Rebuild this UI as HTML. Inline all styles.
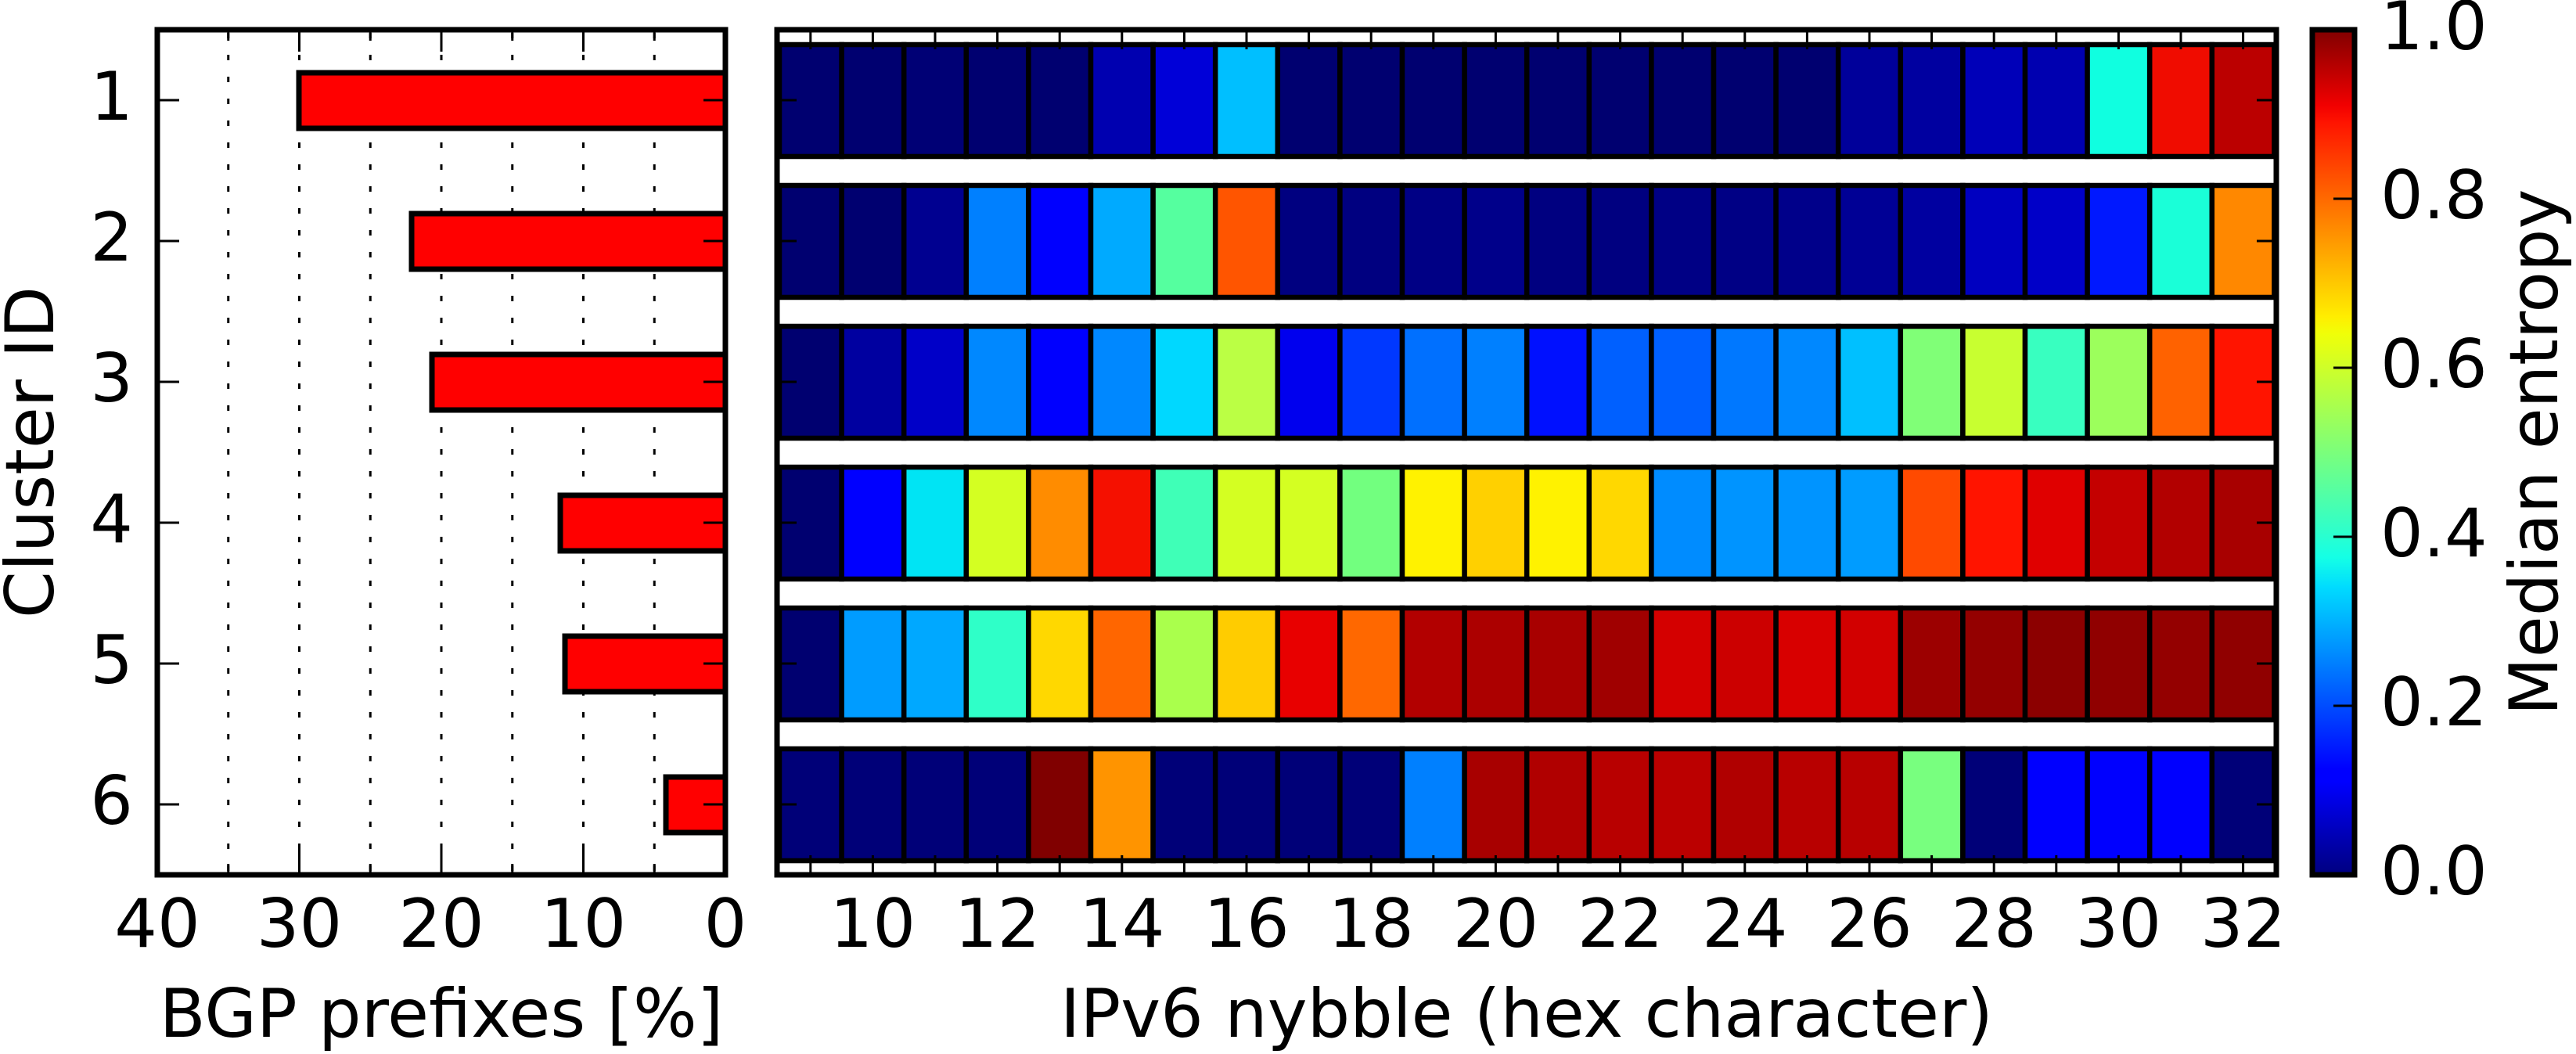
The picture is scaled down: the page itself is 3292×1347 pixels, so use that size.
<!DOCTYPE html>
<html><head><meta charset="utf-8"><style>
html,body{margin:0;padding:0;background:#fff}
svg{display:block}
text{font-family:"DejaVu Sans","Liberation Sans",sans-serif;font-size:86px;fill:#000}
</style></head><body>
<svg width="3292" height="1347" viewBox="0 0 3292 1347" xmlns="http://www.w3.org/2000/svg">
<defs>
<linearGradient id="jet" x1="0" y1="1" x2="0" y2="0">
<stop offset="0" stop-color="#000080"/><stop offset="0.11" stop-color="#0000ff"/><stop offset="0.125" stop-color="#0000ff"/>
<stop offset="0.34" stop-color="#00dbff"/><stop offset="0.375" stop-color="#14ffe6"/><stop offset="0.5" stop-color="#7bff7b"/>
<stop offset="0.64" stop-color="#f0ff08"/><stop offset="0.66" stop-color="#ffee00"/><stop offset="0.89" stop-color="#ff1400"/>
<stop offset="0.91" stop-color="#f20000"/><stop offset="1" stop-color="#800000"/>
</linearGradient>
</defs>

<!-- LEFT PANEL -->
<g stroke="#000" stroke-width="3" stroke-dasharray="7,21">
<line x1="291.75" y1="42" x2="291.75" y2="1114"/><line x1="382.5" y1="42" x2="382.5" y2="1114"/>
<line x1="473.25" y1="42" x2="473.25" y2="1114"/><line x1="564" y1="42" x2="564" y2="1114"/>
<line x1="654.75" y1="42" x2="654.75" y2="1114"/><line x1="745.5" y1="42" x2="745.5" y2="1114"/>
<line x1="836.25" y1="42" x2="836.25" y2="1114"/>
</g>
<g fill="#ff0000" stroke="#000" stroke-width="7">
<rect x="382" y="93" width="545" height="71"/>
<rect x="526" y="273" width="401" height="71"/>
<rect x="552" y="453" width="375" height="71"/>
<rect x="716" y="633" width="211" height="71"/>
<rect x="722" y="813" width="205" height="71"/>
<rect x="851" y="993" width="76" height="71"/>
</g>
<g stroke="#000" stroke-width="3">
<line x1="201" y1="128" x2="229" y2="128"/><line x1="201" y1="308" x2="229" y2="308"/><line x1="201" y1="488" x2="229" y2="488"/>
<line x1="201" y1="668" x2="229" y2="668"/><line x1="201" y1="848" x2="229" y2="848"/><line x1="201" y1="1028" x2="229" y2="1028"/>
<line x1="927" y1="128" x2="899" y2="128"/><line x1="927" y1="308" x2="899" y2="308"/><line x1="927" y1="488" x2="899" y2="488"/>
<line x1="927" y1="668" x2="899" y2="668"/><line x1="927" y1="848" x2="899" y2="848"/><line x1="927" y1="1028" x2="899" y2="1028"/>
<line x1="382.5" y1="1118" x2="382.5" y2="1084"/><line x1="564" y1="1118" x2="564" y2="1084"/><line x1="745.5" y1="1118" x2="745.5" y2="1084"/>
<line x1="291.75" y1="1118" x2="291.75" y2="1104"/><line x1="473.25" y1="1118" x2="473.25" y2="1104"/><line x1="654.75" y1="1118" x2="654.75" y2="1104"/><line x1="836.25" y1="1118" x2="836.25" y2="1104"/>
<line x1="382.5" y1="38" x2="382.5" y2="66"/><line x1="564" y1="38" x2="564" y2="66"/><line x1="745.5" y1="38" x2="745.5" y2="66"/>
<line x1="291.75" y1="38" x2="291.75" y2="52"/><line x1="473.25" y1="38" x2="473.25" y2="52"/><line x1="654.75" y1="38" x2="654.75" y2="52"/><line x1="836.25" y1="38" x2="836.25" y2="52"/>
</g>
<rect x="201" y="38" width="726" height="1080" fill="none" stroke="#000" stroke-width="7"/>
<g text-anchor="end">
<text x="170" y="153">1</text><text x="170" y="333">2</text><text x="170" y="513">3</text>
<text x="170" y="693">4</text><text x="170" y="873">5</text><text x="170" y="1053">6</text>
</g>
<g text-anchor="middle">
<text x="201" y="1210">40</text><text x="382.5" y="1210">30</text><text x="564" y="1210">20</text>
<text x="745.5" y="1210">10</text><text x="927" y="1210">0</text>
<text x="564" y="1325">BGP prefixes [%]</text>
<text transform="translate(68,578) rotate(-90)">Cluster ID</text>
</g>

<!-- HEATMAP -->
<g stroke="#000" stroke-width="6.5">
<g transform="translate(996,57)">
<rect x="0" width="79.6" height="143" fill="#000070"/><rect x="79.6" width="79.6" height="143" fill="#000070"/><rect x="159.2" width="79.6" height="143" fill="#000075"/><rect x="238.8" width="79.6" height="143" fill="#000070"/><rect x="318.4" width="79.6" height="143" fill="#000070"/><rect x="398" width="79.6" height="143" fill="#0000b0"/><rect x="477.6" width="79.6" height="143" fill="#0000d8"/><rect x="557.2" width="79.6" height="143" fill="#00bfff"/><rect x="636.8" width="79.6" height="143" fill="#000070"/><rect x="716.4" width="79.6" height="143" fill="#000070"/><rect x="796" width="79.6" height="143" fill="#000070"/><rect x="875.6" width="79.6" height="143" fill="#000070"/><rect x="955.2" width="79.6" height="143" fill="#000070"/><rect x="1034.8" width="79.6" height="143" fill="#000070"/><rect x="1114.4" width="79.6" height="143" fill="#000070"/><rect x="1194" width="79.6" height="143" fill="#000070"/><rect x="1273.6" width="79.6" height="143" fill="#000070"/><rect x="1353.2" width="79.6" height="143" fill="#00009a"/><rect x="1432.8" width="79.6" height="143" fill="#0000a0"/><rect x="1512.4" width="79.6" height="143" fill="#0000b8"/><rect x="1592" width="79.6" height="143" fill="#0000b0"/><rect x="1671.6" width="79.6" height="143" fill="#10ffe0"/><rect x="1751.2" width="79.6" height="143" fill="#f00c00"/><rect x="1830.8" width="79.6" height="143" fill="#bb0000"/>
</g>
<g transform="translate(996,237)">
<rect x="0" width="79.6" height="143" fill="#000070"/><rect x="79.6" width="79.6" height="143" fill="#000070"/><rect x="159.2" width="79.6" height="143" fill="#000090"/><rect x="238.8" width="79.6" height="143" fill="#0080ff"/><rect x="318.4" width="79.6" height="143" fill="#0000ff"/><rect x="398" width="79.6" height="143" fill="#00aaff"/><rect x="477.6" width="79.6" height="143" fill="#55ff9f"/><rect x="557.2" width="79.6" height="143" fill="#ff5500"/><rect x="636.8" width="79.6" height="143" fill="#000080"/><rect x="716.4" width="79.6" height="143" fill="#000080"/><rect x="796" width="79.6" height="143" fill="#000085"/><rect x="875.6" width="79.6" height="143" fill="#00008a"/><rect x="955.2" width="79.6" height="143" fill="#000080"/><rect x="1034.8" width="79.6" height="143" fill="#000080"/><rect x="1114.4" width="79.6" height="143" fill="#000085"/><rect x="1194" width="79.6" height="143" fill="#000085"/><rect x="1273.6" width="79.6" height="143" fill="#00008a"/><rect x="1353.2" width="79.6" height="143" fill="#000095"/><rect x="1432.8" width="79.6" height="143" fill="#0000a0"/><rect x="1512.4" width="79.6" height="143" fill="#0000c0"/><rect x="1592" width="79.6" height="143" fill="#0000c8"/><rect x="1671.6" width="79.6" height="143" fill="#0018ff"/><rect x="1751.2" width="79.6" height="143" fill="#1affd8"/><rect x="1830.8" width="79.6" height="143" fill="#ff8800"/>
</g>
<g transform="translate(996,417)">
<rect x="0" width="79.6" height="143" fill="#000070"/><rect x="79.6" width="79.6" height="143" fill="#0000a0"/><rect x="159.2" width="79.6" height="143" fill="#0000c8"/><rect x="238.8" width="79.6" height="143" fill="#0088ff"/><rect x="318.4" width="79.6" height="143" fill="#0000ff"/><rect x="398" width="79.6" height="143" fill="#0088ff"/><rect x="477.6" width="79.6" height="143" fill="#00d8ff"/><rect x="557.2" width="79.6" height="143" fill="#bbff44"/><rect x="636.8" width="79.6" height="143" fill="#0000ee"/><rect x="716.4" width="79.6" height="143" fill="#0038ff"/><rect x="796" width="79.6" height="143" fill="#0070ff"/><rect x="875.6" width="79.6" height="143" fill="#0080ff"/><rect x="955.2" width="79.6" height="143" fill="#0010ff"/><rect x="1034.8" width="79.6" height="143" fill="#0060ff"/><rect x="1114.4" width="79.6" height="143" fill="#0060ff"/><rect x="1194" width="79.6" height="143" fill="#0078ff"/><rect x="1273.6" width="79.6" height="143" fill="#0088ff"/><rect x="1353.2" width="79.6" height="143" fill="#00c0ff"/><rect x="1432.8" width="79.6" height="143" fill="#80ff77"/><rect x="1512.4" width="79.6" height="143" fill="#c8ff30"/><rect x="1592" width="79.6" height="143" fill="#38ffc0"/><rect x="1671.6" width="79.6" height="143" fill="#9cff5c"/><rect x="1751.2" width="79.6" height="143" fill="#ff6200"/><rect x="1830.8" width="79.6" height="143" fill="#ff1400"/>
</g>
<g transform="translate(996,597)">
<rect x="0" width="79.6" height="143" fill="#000070"/><rect x="79.6" width="79.6" height="143" fill="#0000ff"/><rect x="159.2" width="79.6" height="143" fill="#00e4f4"/><rect x="238.8" width="79.6" height="143" fill="#d4ff22"/><rect x="318.4" width="79.6" height="143" fill="#ff8c00"/><rect x="398" width="79.6" height="143" fill="#f51000"/><rect x="477.6" width="79.6" height="143" fill="#3fffb7"/><rect x="557.2" width="79.6" height="143" fill="#d4ff22"/><rect x="636.8" width="79.6" height="143" fill="#d4ff22"/><rect x="716.4" width="79.6" height="143" fill="#72ff7f"/><rect x="796" width="79.6" height="143" fill="#fff200"/><rect x="875.6" width="79.6" height="143" fill="#ffd000"/><rect x="955.2" width="79.6" height="143" fill="#fff200"/><rect x="1034.8" width="79.6" height="143" fill="#ffd800"/><rect x="1114.4" width="79.6" height="143" fill="#008cff"/><rect x="1194" width="79.6" height="143" fill="#0094ff"/><rect x="1273.6" width="79.6" height="143" fill="#0094ff"/><rect x="1353.2" width="79.6" height="143" fill="#009cff"/><rect x="1432.8" width="79.6" height="143" fill="#ff4a00"/><rect x="1512.4" width="79.6" height="143" fill="#ff1400"/><rect x="1592" width="79.6" height="143" fill="#e00000"/><rect x="1671.6" width="79.6" height="143" fill="#c40000"/><rect x="1751.2" width="79.6" height="143" fill="#b20000"/><rect x="1830.8" width="79.6" height="143" fill="#a80000"/>
</g>
<g transform="translate(996,777)">
<rect x="0" width="79.6" height="143" fill="#000070"/><rect x="79.6" width="79.6" height="143" fill="#009cff"/><rect x="159.2" width="79.6" height="143" fill="#00a8ff"/><rect x="238.8" width="79.6" height="143" fill="#2fffc8"/><rect x="318.4" width="79.6" height="143" fill="#ffd800"/><rect x="398" width="79.6" height="143" fill="#ff6600"/><rect x="477.6" width="79.6" height="143" fill="#aaff4c"/><rect x="557.2" width="79.6" height="143" fill="#ffcc00"/><rect x="636.8" width="79.6" height="143" fill="#e80000"/><rect x="716.4" width="79.6" height="143" fill="#ff6800"/><rect x="796" width="79.6" height="143" fill="#b20000"/><rect x="875.6" width="79.6" height="143" fill="#ac0000"/><rect x="955.2" width="79.6" height="143" fill="#a80000"/><rect x="1034.8" width="79.6" height="143" fill="#a00000"/><rect x="1114.4" width="79.6" height="143" fill="#d40000"/><rect x="1194" width="79.6" height="143" fill="#cc0000"/><rect x="1273.6" width="79.6" height="143" fill="#d80000"/><rect x="1353.2" width="79.6" height="143" fill="#d20000"/><rect x="1432.8" width="79.6" height="143" fill="#9c0000"/><rect x="1512.4" width="79.6" height="143" fill="#940000"/><rect x="1592" width="79.6" height="143" fill="#8c0000"/><rect x="1671.6" width="79.6" height="143" fill="#900000"/><rect x="1751.2" width="79.6" height="143" fill="#940000"/><rect x="1830.8" width="79.6" height="143" fill="#900000"/>
</g>
<g transform="translate(996,957)">
<rect x="0" width="79.6" height="143" fill="#000078"/><rect x="79.6" width="79.6" height="143" fill="#000078"/><rect x="159.2" width="79.6" height="143" fill="#000078"/><rect x="238.8" width="79.6" height="143" fill="#000078"/><rect x="318.4" width="79.6" height="143" fill="#800000"/><rect x="398" width="79.6" height="143" fill="#ff9400"/><rect x="477.6" width="79.6" height="143" fill="#000078"/><rect x="557.2" width="79.6" height="143" fill="#000078"/><rect x="636.8" width="79.6" height="143" fill="#000078"/><rect x="716.4" width="79.6" height="143" fill="#000078"/><rect x="796" width="79.6" height="143" fill="#0080ff"/><rect x="875.6" width="79.6" height="143" fill="#a80000"/><rect x="955.2" width="79.6" height="143" fill="#b00000"/><rect x="1034.8" width="79.6" height="143" fill="#b80000"/><rect x="1114.4" width="79.6" height="143" fill="#bb0000"/><rect x="1194" width="79.6" height="143" fill="#b00000"/><rect x="1273.6" width="79.6" height="143" fill="#b80000"/><rect x="1353.2" width="79.6" height="143" fill="#b80000"/><rect x="1432.8" width="79.6" height="143" fill="#78ff7f"/><rect x="1512.4" width="79.6" height="143" fill="#000078"/><rect x="1592" width="79.6" height="143" fill="#0000ff"/><rect x="1671.6" width="79.6" height="143" fill="#0000ff"/><rect x="1751.2" width="79.6" height="143" fill="#0000ff"/><rect x="1830.8" width="79.6" height="143" fill="#000078"/>
</g>
</g>
<g stroke="#000" stroke-width="3">
<path d="M1035.8 38v25M1115.4 38v25M1195 38v25M1274.6 38v25M1354.2 38v25M1433.8 38v25M1513.4 38v25M1593 38v25M1672.6 38v25M1752.2 38v25M1831.8 38v25M1911.4 38v25M1991 38v25M2070.6 38v25M2150.2 38v25M2229.8 38v25M2309.4 38v25M2389 38v25M2468.6 38v25M2548.2 38v25M2627.8 38v25M2707.4 38v25M2787 38v25M2866.6 38v25"/>
<path d="M1035.8 1118v-25M1115.4 1118v-25M1195 1118v-25M1274.6 1118v-25M1354.2 1118v-25M1433.8 1118v-25M1513.4 1118v-25M1593 1118v-25M1672.6 1118v-25M1752.2 1118v-25M1831.8 1118v-25M1911.4 1118v-25M1991 1118v-25M2070.6 1118v-25M2150.2 1118v-25M2229.8 1118v-25M2309.4 1118v-25M2389 1118v-25M2468.6 1118v-25M2548.2 1118v-25M2627.8 1118v-25M2707.4 1118v-25M2787 1118v-25M2866.6 1118v-25"/>
<path d="M993 128h25M993 308h25M993 488h25M993 668h25M993 848h25M993 1028h25M2909 128h-25M2909 308h-25M2909 488h-25M2909 668h-25M2909 848h-25M2909 1028h-25"/>
</g>
<rect x="993" y="38" width="1916" height="1080" fill="none" stroke="#000" stroke-width="7"/>
<g text-anchor="middle">
<text x="1115.4" y="1210">10</text><text x="1274.6" y="1210">12</text><text x="1433.8" y="1210">14</text><text x="1593" y="1210">16</text>
<text x="1752.2" y="1210">18</text><text x="1911.4" y="1210">20</text><text x="2070.6" y="1210">22</text><text x="2229.8" y="1210">24</text>
<text x="2389" y="1210">26</text><text x="2548.2" y="1210">28</text><text x="2707.4" y="1210">30</text><text x="2866.6" y="1210">32</text>
<text x="1951" y="1325">IPv6 nybble (hex character)</text>
</g>

<!-- COLORBAR -->
<rect x="2955" y="38" width="54" height="1080" fill="url(#jet)" stroke="#000" stroke-width="7"/>
<path d="M3006 902h-24M3006 686h-24M3006 470h-24M3006 254h-24" stroke="#000" stroke-width="3"/>
<g>
<text x="3042" y="1143">0.0</text><text x="3042" y="927">0.2</text><text x="3042" y="711">0.4</text>
<text x="3042" y="495">0.6</text><text x="3042" y="279">0.8</text><text x="3042" y="63">1.0</text>
<text text-anchor="middle" transform="translate(3268,578) rotate(-90)">Median entropy</text>
</g>
</svg>
</body></html>
